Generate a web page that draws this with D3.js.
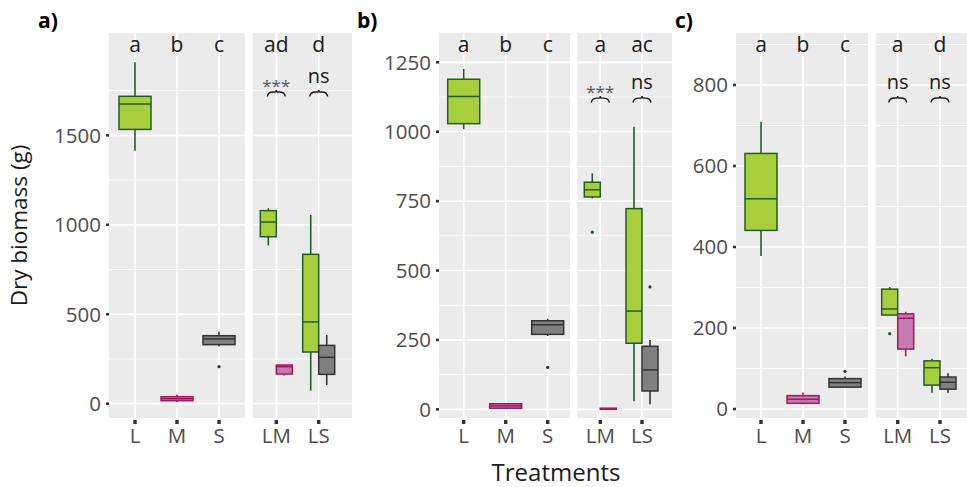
<!DOCTYPE html>
<html><head><meta charset="utf-8">
<script src="https://cdn.jsdelivr.net/npm/d3@7"></script>
<style>body{margin:0;background:#fff} svg{display:block;font-family:"Open Sans",sans-serif}</style>
</head><body><svg id="chart" width="967" height="487"></svg>
<script>
// ---------------- data ----------------
const panelLabels = ["a)", "b)", "c)"];
const singleCats = ["L", "M", "S"];
const mixCats = ["LM", "LS"];
// boxes: L, M, S, LM(L part), LM(M part), LS(L part), LS(S part)
const boxCats   = ["L", "M", "S", "LM", "LM", "LS", "LS"];
const boxGroups = ["L", "M", "S", "L", "M", "L", "S"];
const boxDodge  = [0, 0, 0, -1, 1, -1, 1];
// [lower whisker, Q1, median, Q3, upper whisker]
const statsA = [[1414,1533,1675,1718,1908],[10,17,28,39,52],[320,330,362,380,402],[885,933,1015,1079,1092],[157,166,207,216,216],[73,289,457,835,1055],[104,164,259,326,384]];
const outliersA = [[],[],[207],[],[],[],[]];
const statsB = [[1009,1029,1127,1189,1226],[4,4,12,20,20],[264,270,305,319,326],[760,765,791,818,850],[0,0,2,4,4],[29,238,354,723,1018],[18,66,142,227,250]];
const outliersB = [[],[],[151],[638],[],[],[441]];
const statsC = [[378,441,519,631,709],[12,14,24,33,41],[54,54,65,75,80],[232,232,247,296,301],[130,148,224,235,240],[40,59,102,119,124],[40,49,66,79,88]];
const outliersC = [[],[],[93],[186],[],[],[]];
const lettersA = ["a","b","c","ad","d"];
const lettersB = ["a","b","c","a","ac"];
const lettersC = ["a","b","c","a","d"];
const sigA = ["***","ns"], sigB = ["***","ns"], sigC = ["ns","ns"];
const ticksA = [0,500,1000,1500];
const ticksB = [0,250,500,750,1000,1250];
const ticksC = [0,200,400,600,800];
const sigLevelA = 1742, sigLevelB = 1121, sigLevelC = 768;

// ---------------- layout ----------------
const TOP = 33, BOTTOM = 418;
const layouts = [
  {p1:[109,245], p2:[252.7,352], c1:[135,219], c2:[276.3,318.7], y:[-79.9,2071.8], lab:[38,28]},
  {p1:[439,570], p2:[577.3,672], c1:[463.7,547.7], c2:[600.3,642], y:[-31.3,1355.6], lab:[357,28]},
  {p1:[736,868], p2:[875.7,975], c1:[761,845], c2:[897.7,940], y:[-22.2,928.4], lab:[675,28]}
];
const panelData = [
  {stats:statsA, out:outliersA, letters:lettersA, sig:sigA, ticks:ticksA, sigLevel:sigLevelA},
  {stats:statsB, out:outliersB, letters:lettersB, sig:sigB, ticks:ticksB, sigLevel:sigLevelB},
  {stats:statsC, out:outliersC, letters:lettersC, sig:sigC, ticks:ticksC, sigLevel:sigLevelC}
];
const fills   = {L:"#a6cf3b", M:"#c47ab2", S:"#808080"};
const strokes = {L:"#245b2a", M:"#a3195b", S:"#333333"};

const svg = d3.select("#chart");

panelData.forEach((pd, pi) => {
  const L = layouts[pi];
  const y = d3.scaleLinear().domain(L.y).range([BOTTOM, TOP]);
  const x1 = d3.scalePoint().domain(singleCats).range(L.c1);
  const x2 = d3.scalePoint().domain(mixCats).range(L.c2);
  const xc = c => singleCats.includes(c) ? x1(c) : x2(c);
  const g = svg.append("g");

  const step = pd.ticks[1] - pd.ticks[0];
  const minor = [];
  pd.ticks.forEach(t => { if (t + step/2 <= L.y[1]) minor.push(t + step/2); });

  [[L.p1, singleCats, x1], [L.p2, mixCats, x2]].forEach(([pr, cats, xs]) => {
    g.append("rect").attr("x", pr[0]).attr("y", TOP).attr("width", pr[1]-pr[0]).attr("height", BOTTOM-TOP).attr("fill", "#ebebeb");
    g.selectAll(null).data(minor).enter().append("line")
      .attr("x1", pr[0]).attr("x2", pr[1]).attr("y1", d => y(d)).attr("y2", d => y(d))
      .attr("stroke", "#fff").attr("stroke-width", 0.9);
    g.selectAll(null).data(pd.ticks).enter().append("line")
      .attr("x1", pr[0]).attr("x2", pr[1]).attr("y1", d => y(d)).attr("y2", d => y(d))
      .attr("stroke", "#fff").attr("stroke-width", 1.7);
    g.selectAll(null).data(cats).enter().append("line")
      .attr("x1", d => xs(d)).attr("x2", d => xs(d)).attr("y1", TOP).attr("y2", BOTTOM)
      .attr("stroke", "#fff").attr("stroke-width", 1.7);
    // x ticks + labels
    g.selectAll(null).data(cats).enter().append("rect")
      .attr("x", d => xs(d) - 1.7).attr("y", BOTTOM + 2).attr("width", 3.4).attr("height", 4).attr("fill", "#333");
    g.selectAll(null).data(cats).enter().append("text")
      .attr("x", d => xs(d)).attr("y", 443).attr("text-anchor", "middle")
      .attr("font-size", 20.5).attr("fill", "#4d4d4d").text(d => d);
  });

  // y ticks + labels
  g.selectAll(null).data(pd.ticks).enter().append("rect")
    .attr("x", L.p1[0] - 3).attr("y", d => y(d) - 1.3).attr("width", 3).attr("height", 2.6).attr("fill", "#333");
  g.selectAll(null).data(pd.ticks).enter().append("text")
    .attr("x", L.p1[0] - 8).attr("y", d => y(d)).attr("dy", "0.36em").attr("text-anchor", "end")
    .attr("font-size", 20.5).attr("fill", "#4d4d4d").text(d => d);

  // boxes
  pd.stats.forEach((s, i) => {
    const grp = boxGroups[i];
    const w = boxDodge[i] === 0 ? 32 : 16;
    const cx = xc(boxCats[i]) + boxDodge[i] * 8;
    const bg = g.append("g");
    bg.append("line").attr("x1", cx).attr("x2", cx).attr("y1", y(s[0])).attr("y2", y(s[1]))
      .attr("stroke", strokes[grp]).attr("stroke-width", 1.6);
    bg.append("line").attr("x1", cx).attr("x2", cx).attr("y1", y(s[3])).attr("y2", y(s[4]))
      .attr("stroke", strokes[grp]).attr("stroke-width", 1.6);
    bg.append("rect").attr("x", cx - w/2).attr("y", y(s[3])).attr("width", w)
      .attr("height", Math.max(0.5, y(s[1]) - y(s[3])))
      .attr("fill", fills[grp]).attr("stroke", strokes[grp]).attr("stroke-width", 1.5);
    bg.append("line").attr("x1", cx - w/2).attr("x2", cx + w/2).attr("y1", y(s[2])).attr("y2", y(s[2]))
      .attr("stroke", strokes[grp]).attr("stroke-width", 1.5);
    bg.selectAll(null).data(pd.out[i]).enter().append("circle")
      .attr("cx", cx).attr("cy", d => y(d)).attr("r", 1.6).attr("fill", strokes[grp]);
  });

  // letters
  const allCats = singleCats.concat(mixCats);
  g.selectAll(null).data(pd.letters).enter().append("text")
    .attr("x", (d, i) => xc(allCats[i])).attr("y", 52).attr("text-anchor", "middle")
    .attr("font-size", 21).attr("fill", "#1a1a1a").text(d => d);

  // significance braces
  const by = y(pd.sigLevel);
  pd.sig.forEach((s, i) => {
    const cx = x2(mixCats[i]);
    g.append("path")
      .attr("d", `M${cx-9},${by+4.5} Q${cx-8.5},${by} ${cx-3},${by} L${cx-1.5},${by} Q${cx},${by} ${cx},${by-2} Q${cx},${by} ${cx+1.5},${by} L${cx+3},${by} Q${cx+8.5},${by} ${cx+9},${by+4.5}`)
      .attr("fill", "none").attr("stroke", "#1a1a1a").attr("stroke-width", 1.4);
    g.append("text").attr("x", cx).attr("y", s === "ns" ? by - 9 : by + 0)
      .attr("text-anchor", "middle").attr("font-size", s === "ns" ? 20 : 17)
      .attr("fill", s === "ns" ? "#1a1a1a" : "#555").text(s);
  });

  svg.append("text").attr("x", L.lab[0]).attr("y", L.lab[1]).attr("font-size", 21)
    .attr("font-weight", "bold").attr("fill", "#000").text(panelLabels[pi]);
});

svg.append("text").attr("transform", "translate(27,225.5) rotate(-90)").attr("text-anchor", "middle")
  .attr("font-size", 22.5).attr("fill", "#1a1a1a").text("Dry biomass (g)");
svg.append("text").attr("x", 556).attr("y", 481).attr("text-anchor", "middle")
  .attr("font-size", 24).attr("fill", "#1a1a1a").text("Treatments");
</script></body></html>
